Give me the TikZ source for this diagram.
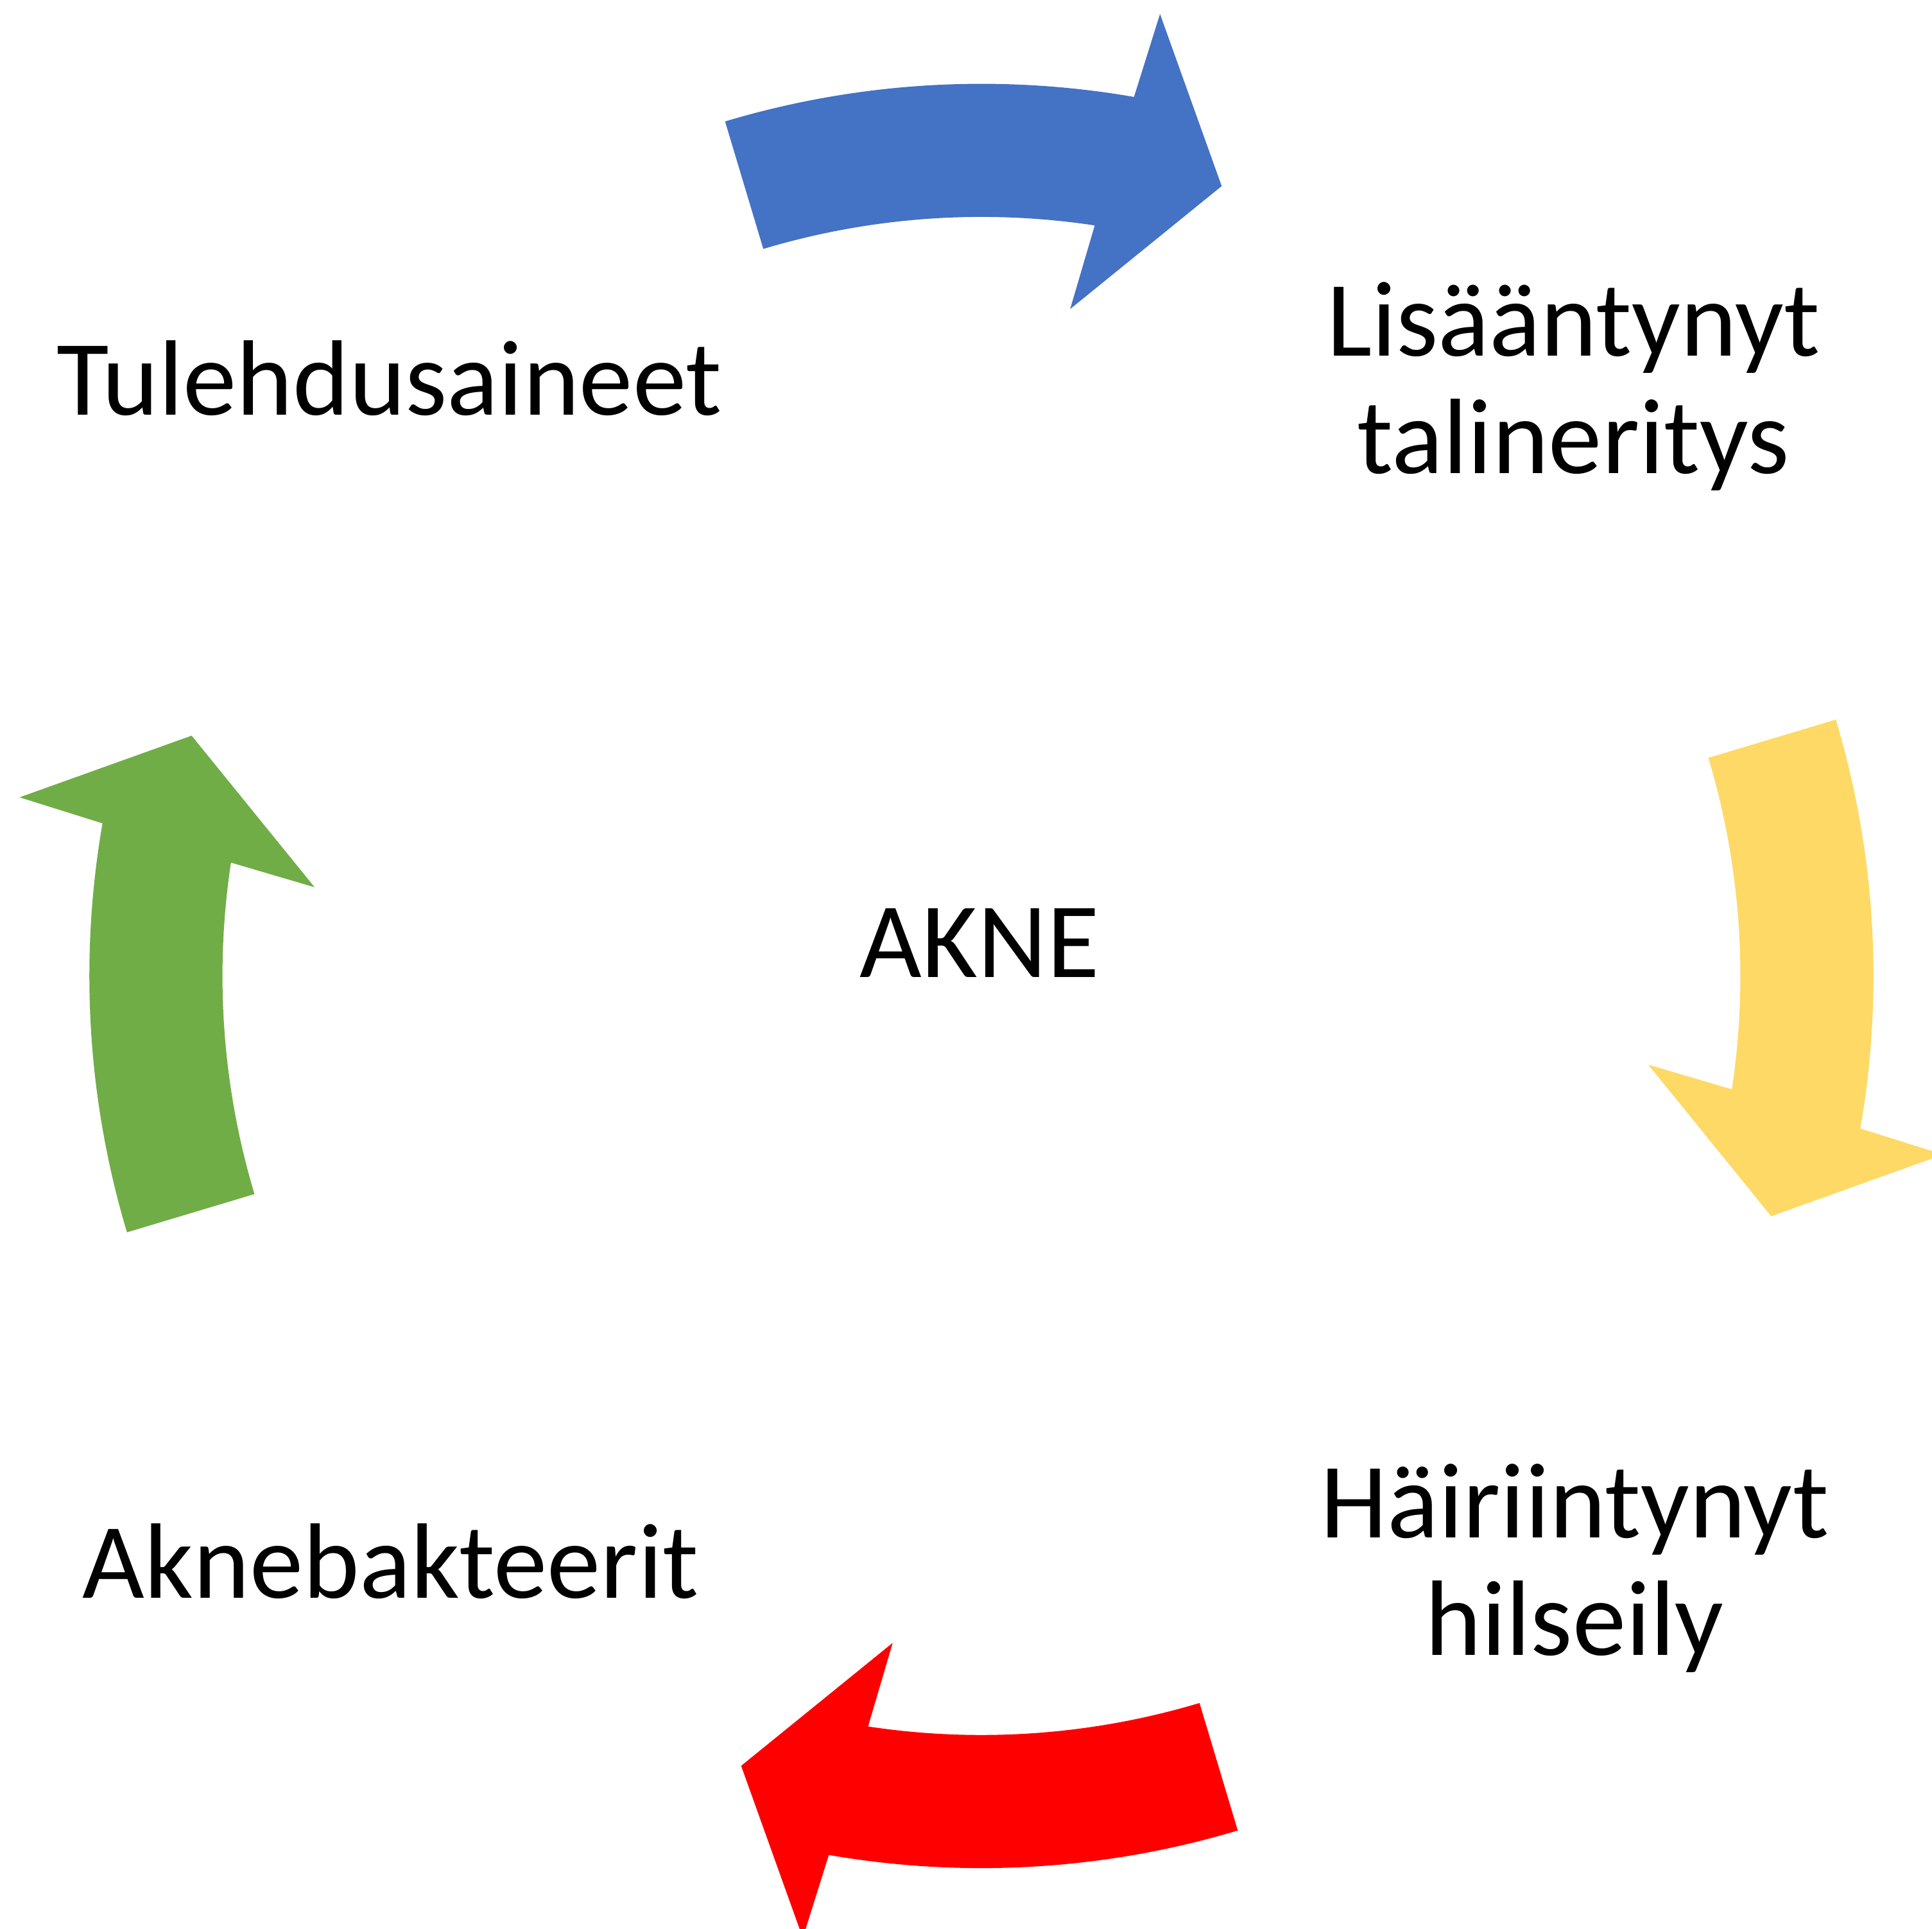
\documentclass[tikz,border=0pt]{standalone}
\usepackage{fontspec}
\setmainfont{Carlito}
\definecolor{cblue}{HTML}{4472C4}
\definecolor{cyellow}{HTML}{FFD966}
\definecolor{cred}{HTML}{FF0000}
\definecolor{cgreen}{HTML}{70AD47}
\newcommand\cyclearrow[2]{%
  \begin{scope}[shift={(796.5,773)}, rotate=#1]
    \fill[#2] (106.7:724) arc[start angle=106.7, end angle=80.15, radius=724]
      -- (79.48:794) -- (73.08:670) -- (82.42:546) -- (81.41:616)
      arc[start angle=81.41, end angle=106.7, radius=616] -- cycle;
  \end{scope}}
\begin{document}
\begin{tikzpicture}[x=0.5pt, y=0.5pt,
  lbl/.style={inner sep=0pt, anchor=base, align=center,
    font=\fontsize{43.5pt}{47.5pt}\selectfont}]
\path[use as bounding box, clip] (0,0) rectangle (1568,1565);
\cyclearrow{0}{cblue}
\cyclearrow{-90}{cyellow}
\cyclearrow{-180}{cred}
\cyclearrow{-270}{cgreen}
\node[lbl] (center) at (795,772) {AKNE};
\node[lbl] (tul) at (316,1228) {Tulehdusaineet};
\node[lbl] (lis) at (1277,1181) {Lisääntynyt\\talineritys};
\node[lbl] (hai) at (1278,222) {Häiriintynyt\\hilseily};
\node[lbl] (akn) at (317,268) {Aknebakteerit};
\end{tikzpicture}
\end{document}
